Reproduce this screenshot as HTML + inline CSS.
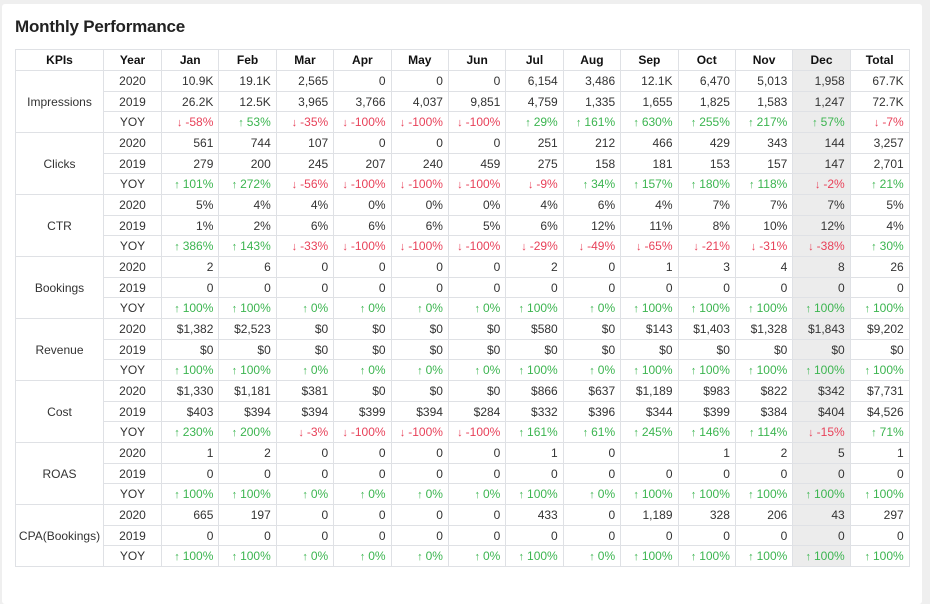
<!DOCTYPE html>
<html><head><meta charset="utf-8">
<style>
html,body{margin:0;padding:0;}
body{width:930px;height:593px;background:#efefef;font-family:"Liberation Sans",Arial,sans-serif;color:#333;overflow:hidden;position:relative;}
.card{position:absolute;left:2px;top:4px;width:920px;height:600px;background:#fff;border-radius:3px;}
h1{position:absolute;left:13px;top:13px;margin:0;font-size:17px;font-weight:bold;color:#222;letter-spacing:-0.2px;}
table{position:absolute;left:13px;top:45px;border-collapse:collapse;table-layout:fixed;width:894px;font-size:12px;}
td,th{border:1px solid #dfe1e5;padding:0 5px 0 0;height:19.68px;text-align:right;white-space:nowrap;overflow:hidden;}
th{height:20px;font-weight:bold;text-align:center;padding:0;color:#111;}
td.kpi{text-align:center;padding:0;}
td.yr{text-align:center;padding:0;}
.dec{background:#ececec;}
.up{color:#3cb550;}
.dn{color:#e8425a;}
.ar{font-size:11px;margin-right:3px;}
</style></head>
<body>
<div class="card">
<h1>Monthly Performance</h1>
<table id="t">
<colgroup><col style="width:88px"><col style="width:58px"><col span="12" style="width:57.4px"><col style="width:59px"></colgroup>
<thead><tr id="hdr"></tr></thead>
<tbody id="tb"></tbody>
</table>
</div>
<script>
const headers = ["KPIs","Year","Jan","Feb","Mar","Apr","May","Jun","Jul","Aug","Sep","Oct","Nov","Dec","Total"];
const kpis = ["Impressions","Clicks","CTR","Bookings","Revenue","Cost","ROAS","CPA(Bookings)"];
const rows2020 = [
"10.9K|19.1K|2,565|0|0|0|6,154|3,486|12.1K|6,470|5,013|1,958|67.7K",
"561|744|107|0|0|0|251|212|466|429|343|144|3,257",
"5%|4%|4%|0%|0%|0%|4%|6%|4%|7%|7%|7%|5%",
"2|6|0|0|0|0|2|0|1|3|4|8|26",
"$1,382|$2,523|$0|$0|$0|$0|$580|$0|$143|$1,403|$1,328|$1,843|$9,202",
"$1,330|$1,181|$381|$0|$0|$0|$866|$637|$1,189|$983|$822|$342|$7,731",
"1|2|0|0|0|0|1|0||1|2|5|1",
"665|197|0|0|0|0|433|0|1,189|328|206|43|297"];
const rows2019 = [
"26.2K|12.5K|3,965|3,766|4,037|9,851|4,759|1,335|1,655|1,825|1,583|1,247|72.7K",
"279|200|245|207|240|459|275|158|181|153|157|147|2,701",
"1%|2%|6%|6%|6%|5%|6%|12%|11%|8%|10%|12%|4%",
"0|0|0|0|0|0|0|0|0|0|0|0|0",
"$0|$0|$0|$0|$0|$0|$0|$0|$0|$0|$0|$0|$0",
"$403|$394|$394|$399|$394|$284|$332|$396|$344|$399|$384|$404|$4,526",
"0|0|0|0|0|0|0|0|0|0|0|0|0",
"0|0|0|0|0|0|0|0|0|0|0|0|0"];
const rowsYoy = [
"-58|53|-35|-100|-100|-100|29|161|630|255|217|57|-7",
"101|272|-56|-100|-100|-100|-9|34|157|180|118|-2|21",
"386|143|-33|-100|-100|-100|-29|-49|-65|-21|-31|-38|30",
"100|100|0|0|0|0|100|0|100|100|100|100|100",
"100|100|0|0|0|0|100|0|100|100|100|100|100",
"230|200|-3|-100|-100|-100|161|61|245|146|114|-15|71",
"100|100|0|0|0|0|100|0|100|100|100|100|100",
"100|100|0|0|0|0|100|0|100|100|100|100|100"];

const hdr = document.getElementById('hdr');
headers.forEach((h,i)=>{
  const th = document.createElement('th');
  th.textContent = h;
  
  
  if(i===13) th.className='dec';
  hdr.appendChild(th);
});
const tb = document.getElementById('tb');
kpis.forEach((k,ki)=>{
  const sets = [["2020",rows2020[ki].split('|')],["2019",rows2019[ki].split('|')],["YOY",rowsYoy[ki].split('|')]];
  sets.forEach((s,si)=>{
    const tr = document.createElement('tr');
    
    
    if(si===0){
      const td = document.createElement('td');
      td.rowSpan = 3; td.className='kpi'; td.textContent = k;
      
      
      tr.appendChild(td);
    }
    const y = document.createElement('td');
    y.className='yr'; y.textContent = s[0];
    
    
    tr.appendChild(y);
    s[1].forEach((v,vi)=>{
      const td = document.createElement('td');
      
      
      if(vi===11) td.className='dec';
      if(si===2){
        const n = parseFloat(v);
        const up = n>=0;
        const sp = document.createElement('span');
        sp.className = up?'up':'dn';
        sp.innerHTML = '<span class="ar">'+(up?'↑':'↓')+'</span>'+v+'%';
        
        
        td.appendChild(sp);
      } else td.textContent = v;
      tr.appendChild(td);
    });
    tb.appendChild(tr);
  });
});
</script>
</body></html>
